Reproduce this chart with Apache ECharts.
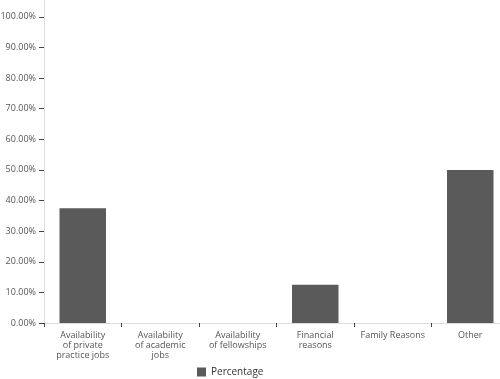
<!DOCTYPE html>
<html><head><meta charset="utf-8">
<script src="https://cdn.jsdelivr.net/npm/echarts@6/dist/echarts.min.js"></script>
<style>html,body{margin:0;padding:0;background:#fff}#c{width:500px;height:379px}</style>
</head><body><div id="c"></div>
<script>
const categories = ["Availability\nof private\npractice jobs","Availability\nof academic\njobs","Availability\nof fellowships","Financial\nreasons","Family Reasons","Other"];
const percentage = [37.5, 0, 0, 12.5, 0, 50];
const seriesName = "Percentage";

const chart = echarts.init(document.getElementById('c'), null, {renderer:'canvas'});
chart.setOption({
  animation:false,
  textStyle:{fontFamily:'"Open Sans", sans-serif'},
  grid:{left:44,width:465,top:0,bottom:56,containLabel:false,outerBoundsMode:'none'},
  legend:{show:true,left:192,top:362,itemWidth:9,itemHeight:9,itemGap:6,
    icon:'rect',textStyle:{fontSize:10,color:'#333',fontFamily:'"Open Sans", sans-serif'}},
  xAxis:{type:'category',data:categories,
    axisLine:{show:true,lineStyle:{color:'#ddd',width:1}},
    axisTick:{show:true,alignWithLabel:false,length:4,lineStyle:{color:'#444',width:1}},
    axisLabel:{interval:0,color:'#555',fontSize:9,lineHeight:10,margin:7,fontFamily:'"Open Sans", sans-serif'},
    splitLine:{show:false}},
  yAxis:{type:'value',min:0,max:105.5,interval:10,
    axisLine:{show:true,lineStyle:{color:'#ddd',width:1}},
    axisTick:{show:true,length:5,inside:false,lineStyle:{color:'#444',width:1}},
    axisLabel:{showMaxLabel:false,color:'#555',fontSize:9,margin:8,fontFamily:'"Open Sans", sans-serif',
      formatter:v=>v.toFixed(2)+'%'},
    splitLine:{show:false}},
  series:[{name:seriesName,type:'bar',data:percentage,barWidth:'60%',
    itemStyle:{color:'#5a5a5a',borderWidth:0}}]
});
</script></body></html>
